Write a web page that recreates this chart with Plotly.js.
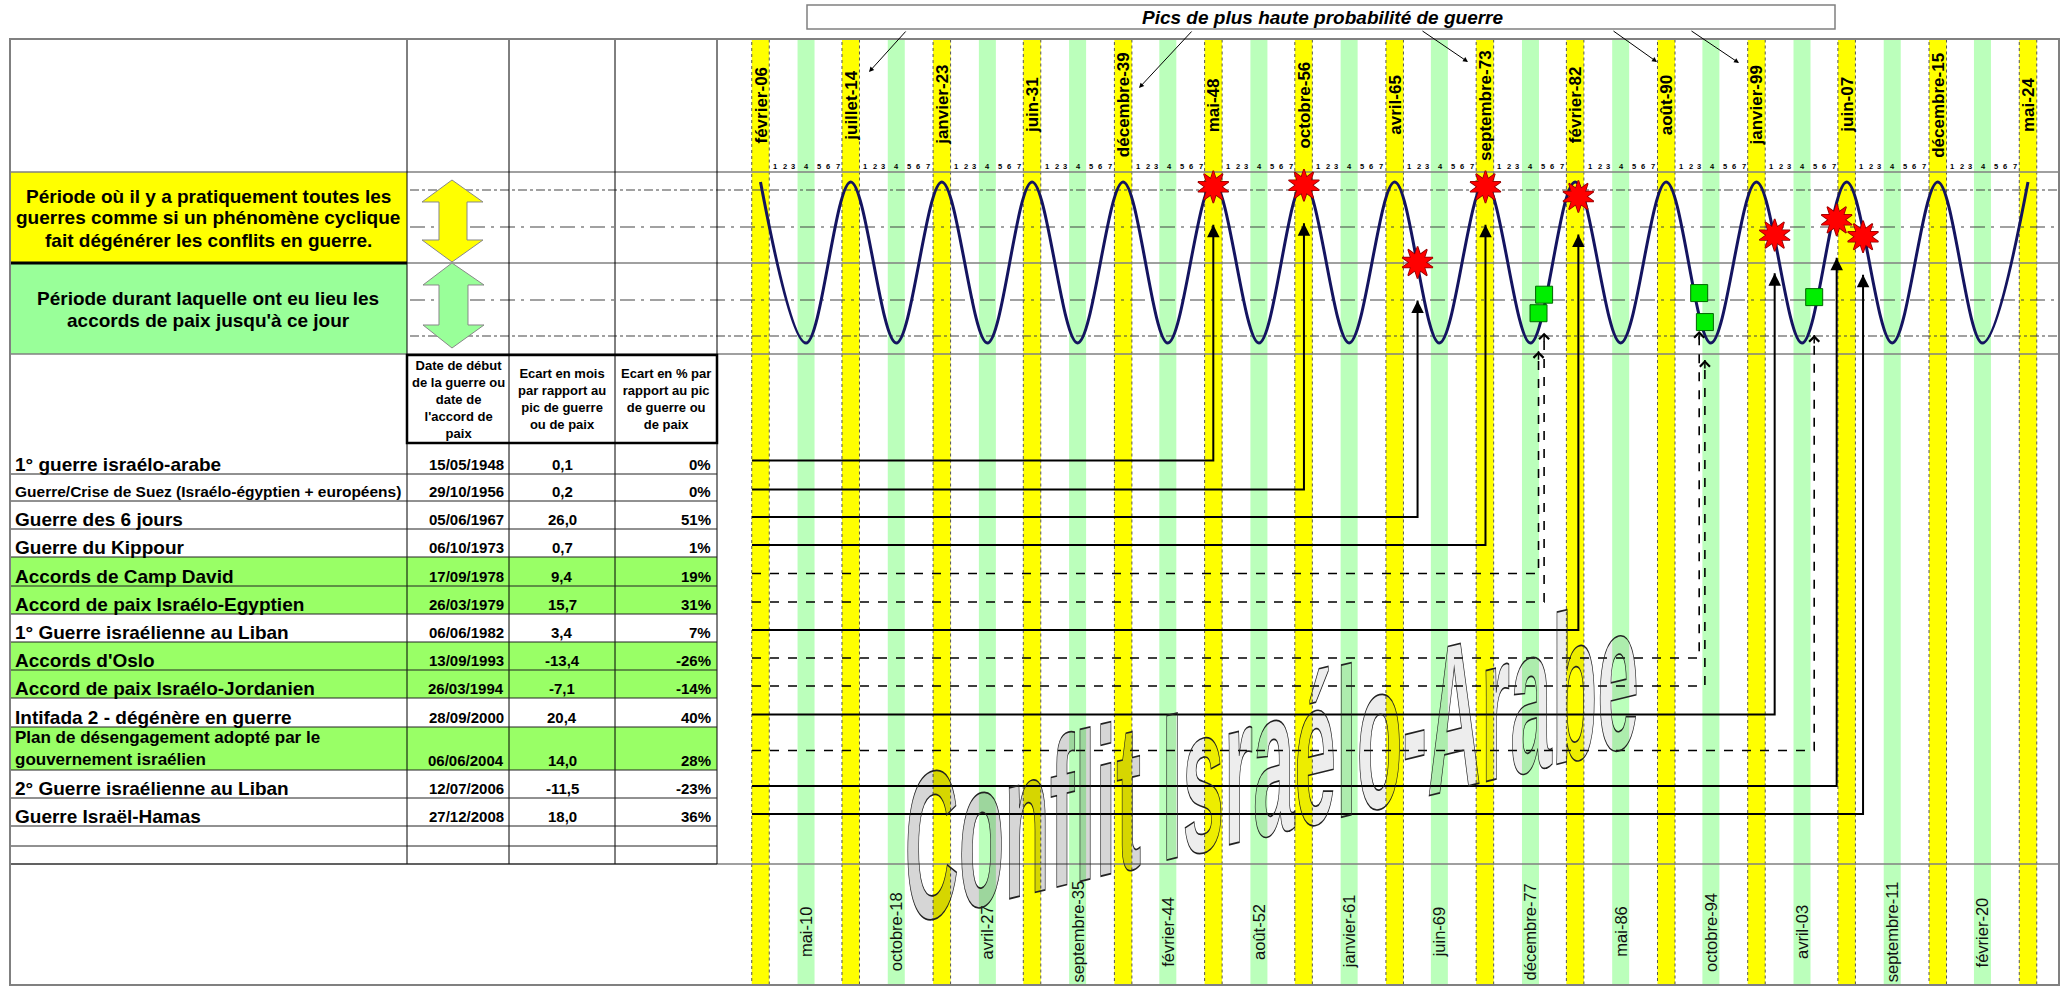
<!DOCTYPE html>
<html><head><meta charset="utf-8">
<script src="https://cdn.plot.ly/plotly-3.0.1.min.js"></script>
<style>html,body{margin:0;padding:0;background:#fff;}#chart{width:2064px;height:987px;}</style>
</head><body><div id="chart"></div>
<script>
// ================= DATA =================
const peakLabels = ['février-06','juillet-14','janvier-23','juin-31','décembre-39','mai-48','octobre-56','avril-65','septembre-73','février-82','août-90','janvier-99','juin-07','décembre-15','mai-24'];
const peakDates  = ['1906-02','1914-07','1923-01','1931-06','1939-12','1948-05','1956-10','1965-04','1973-09','1982-02','1990-08','1999-01','2007-06','2015-12','2024-05'];
const troughLabels = ['mai-10','octobre-18','avril-27','septembre-35','février-44','août-52','janvier-61','juin-69','décembre-77','mai-86','octobre-94','avril-03','septembre-11','février-20'];
const troughDates  = ['1910-05','1918-10','1927-04','1935-09','1944-02','1952-08','1961-01','1969-06','1977-12','1986-05','1994-10','2003-04','2011-09','2020-02'];
const phaseNumbers = ['1','2','3','4','5','6','7'];

const events = ['1° guerre israélo-arabe','Guerre/Crise de Suez (Israélo-égyptien + européens)','Guerre des 6 jours','Guerre du Kippour','Accords de Camp David','Accord de paix Israélo-Egyptien','1° Guerre israélienne au Liban',"Accords d'Oslo",'Accord de paix Israélo-Jordanien','Intifada 2 - dégénère en guerre','Plan de désengagement adopté par le<br>gouvernement israélien','2° Guerre israélienne au Liban','Guerre Israël-Hamas'];
const eventDates = ['15/05/1948','29/10/1956','05/06/1967','06/10/1973','17/09/1978','26/03/1979','06/06/1982','13/09/1993','26/03/1994','28/09/2000','06/06/2004','12/07/2006','27/12/2008'];
const eventKind = ['guerre','guerre','guerre','guerre','paix','paix','guerre','paix','paix','guerre','paix','guerre','guerre'];
const ecartMois = [0.1,0.2,26.0,0.7,9.4,15.7,3.4,-13.4,-7.1,20.4,14.0,-11.5,18.0];
const ecartPct  = [0,0,51,1,19,31,7,-26,-14,40,28,-23,36];
const waveLevel = [0.94,0.96,0.0,0.94,-0.63,-0.40,0.82,-0.38,-0.74,0.34,-0.43,0.53,0.32];

const titleText = 'Pics de plus haute probabilité de guerre';
const yellowText = ['Période où il y a pratiquement toutes les','guerres comme si un phénomène cyclique','fait dégénérer les conflits en guerre.'];
const greenText = ['Période durant laquelle ont eu lieu les',"accords de paix jusqu'à ce jour"];
const headerText = ["Date de début<br>de la guerre ou<br>date de<br>l'accord de<br>paix",'Ecart en mois<br>par rapport au<br>pic de guerre<br>ou de paix','Ecart en % par<br>rapport au pic<br>de guerre ou<br>de paix'];
const watermarkParts = ['Conflit','Israélo-Arabe'];

// ================= LAYOUT CONSTANTS (pixels) =================
const W = 2064, H = 987;
const FR = {l:10, r:2059, t:39, b:985};
const COLS = [407,509,615,717];
const ROW_EDGES = [443,474,501,529,557,586,614,642,670,698,727,770,798,826,846,864];
const PEAK_PX0 = 760.5, PEAK_PX1 = 2028;
const WAVE_MID = 262.5, WAVE_AMP = 80.5;
const CHART_LEFT = 752;
const ARROW_GAP = 38;
const NUM_DX = [14.5,24.5,32.5,46,58.5,67.5,77.5];
const LABEL_SIZE = [19,15.5,19,19,19,19,19,19,19,19,17,19,19];
const FONT = 'Liberation Sans, Arial, sans-serif';

// ================= SCALES =================
const ym = s => { const [y,m] = s.split('-').map(Number); return y + (m-0.5)/12; };
const dmy = s => { const [d,m,y] = s.split('/').map(Number); const t0 = Date.UTC(y,0,1), t1 = Date.UTC(y+1,0,1); return y + (Date.UTC(y,m-1,d)-t0)/(t1-t0); };
const peaksX = peakDates.map(ym), troughsX = troughDates.map(ym);
const PPY = (PEAK_PX1-PEAK_PX0)/(peaksX[peaksX.length-1]-peaksX[0]);
const X0 = peaksX[0]-PEAK_PX0/PPY, X1 = X0 + W/PPY;
const px2x = p => X0 + p/PPY;
const py2y = p => (WAVE_MID-p)/WAVE_AMP;
const xp = p => p/W, yp = p => 1 - p/H;

const shapes = [], ann = [];
const rect = (x0,y0,x1,y1,fill,line) => shapes.push({type:'rect',xref:'paper',yref:'paper',x0:xp(x0),x1:xp(x1),y0:yp(y1),y1:yp(y0),fillcolor:fill||'rgba(0,0,0,0)',line:line||{width:0},layer:'below'});
const seg = (x0,y0,x1,y1,color,width,dash) => shapes.push({type:'line',xref:'paper',yref:'paper',x0:xp(x0),x1:xp(x1),y0:yp(y0),y1:yp(y1),line:{color:color,width:width,dash:dash||'solid'},layer:'below'});
const path = (pts,fill,lc) => shapes.push({type:'path',xref:'paper',yref:'paper',path:'M'+pts.map(p=>xp(p[0]).toFixed(5)+','+yp(p[1]).toFixed(5)).join('L')+'Z',fillcolor:fill,line:{color:lc,width:1},layer:'below'});
const txt = (px,py,text,size,o) => ann.push(Object.assign({xref:'paper',yref:'paper',x:xp(px),y:yp(py),text:text,showarrow:false,font:{family:FONT,size:size,color:'#000',weight:'bold'},xanchor:'center',yanchor:'middle'},o||{}));

// ---- bands ----
troughsX.forEach(x => shapes.push({type:'rect',xref:'x',yref:'paper',xsizemode:'pixel',xanchor:x,x0:-8.5,x1:8.5,y0:yp(FR.b),y1:yp(FR.t),fillcolor:'#bbffbb',line:{width:0},layer:'below'}));
peaksX.forEach(x => shapes.push({type:'rect',xref:'x',yref:'paper',xsizemode:'pixel',xanchor:x,x0:-8.75,x1:8.75,y0:yp(FR.b),y1:yp(FR.t),fillcolor:'#ffff00',line:{width:1,color:'#555',dash:'dot'},layer:'below'}));

// ---- fills ----
rect(FR.l,172,COLS[0],263,'#ffff00');
rect(FR.l,263,COLS[0],354,'#99ff99');
eventKind.forEach((k,i) => { if (k==='paix') rect(FR.l,ROW_EDGES[i],COLS[3],ROW_EDGES[i+1],'#99ff66'); });

// ---- guide lines ----
seg(410,190,FR.r,190,'#444',1.2,'dashdot');
seg(410,227,FR.r,227,'#444',1.2,'longdashdot');
seg(410,300,FR.r,300,'#444',1.2,'longdashdot');
seg(410,336,FR.r,336,'#444',1.2,'dashdot');
seg(FR.l,172,FR.r,172,'#808080',1.5);
seg(FR.l,263,FR.r,263,'#808080',1.5);
seg(FR.l,263,COLS[0],263,'#000',3);
seg(FR.l,354,FR.r,354,'#808080',1.5);
seg(FR.l,864,FR.r,864,'#808080',1.5);
// table
COLS.forEach(c => seg(c,FR.t,c,864,'#000',1));
ROW_EDGES.slice(1).forEach(e => seg(FR.l,e,COLS[3],e,'#222',1));
rect(COLS[0],355,COLS[3],443,null,{color:'#000',width:2.5});
// frame
rect(FR.l,FR.t,FR.r,FR.b,null,{color:'#808080',width:2});

// ---- double arrows ----
path([[452,180],[483,202],[467,202],[467,240],[483,240],[452,262],[422,240],[439,240],[439,202],[422,202]],'#ffff00','#888');
path([[452,263],[484,285],[468,285],[468,325],[484,325],[452,348],[423,325],[439,325],[439,285],[423,285]],'#99ff99','#888');

// ---- title box ----
shapes.push({type:'rect',xref:'paper',yref:'paper',x0:xp(807),x1:xp(1835),y0:yp(29),y1:yp(5),fillcolor:'#fff',line:{color:'#808080',width:1.5},layer:'above'});
txt(1323,17.5,titleText,19,{font:{family:FONT,size:19,color:'#000',weight:'bold',style:'italic'}});
[[907,30,869,72],[1193,30,1139,88],[1421,30,1468,62],[1612,30,1657,62],[1690,30,1739,63]].forEach(a => ann.push({xref:'paper',yref:'paper',x:xp(a[2]),y:yp(a[3]),ax:a[0]-a[2],ay:a[1]-a[3],text:'',showarrow:true,arrowhead:2,arrowsize:1,arrowwidth:1,arrowcolor:'#000'}));

// ---- left boxes ----
yellowText.forEach((t,i) => txt(208,196+22*i,t,19));
greenText.forEach((t,i) => txt(208,298+22*i,t,19));

// ---- header ----
headerText.forEach((t,i) => txt((COLS[i]+COLS[i+1])/2,399,t,13));

// ---- rows ----
const fmt1 = v => (v<0?'-':'') + Math.abs(v).toFixed(1).replace('.',',');
events.forEach((e,i) => {
  const bottom = ROW_EDGES[i+1];
  const ty = bottom - 9.5;
  const ly = e.includes('<br>') ? (ROW_EDGES[i]+bottom)/2 : ty;
  txt(13,ly,e,LABEL_SIZE[i],{xanchor:'left',align:'left'});
  txt(506,ty,eventDates[i],15,{xanchor:'right'});
  txt(562,ty,fmt1(ecartMois[i]),15);
  txt(713,ty,ecartPct[i]+'%',15,{xanchor:'right'});
});

// ---- period labels ----
peaksX.forEach((x,i) => ann.push({xref:'x',yref:'paper',x:x,y:yp(105),xanchor:'center',yanchor:'middle',text:peakLabels[i],textangle:-90,showarrow:false,font:{family:FONT,size:17,color:'#000',weight:'bold'}}));
troughsX.forEach((x,i) => ann.push({xref:'x',yref:'paper',x:x,y:yp(932),xanchor:'center',yanchor:'middle',text:troughLabels[i],textangle:-90,showarrow:false,font:{family:FONT,size:16.5,color:'#111'}}));
peaksX.slice(0,-1).forEach(x => phaseNumbers.forEach((n,k) => ann.push({xref:'x',yref:'paper',x:x,xshift:NUM_DX[k],y:yp(166),xanchor:'center',yanchor:'middle',text:n,showarrow:false,font:{family:FONT,size:7.5,color:'#000',weight:'bold'}})));

// ================= TRACES =================
const waveX = [], waveY = [];
peaksX.forEach((p,i) => { waveX.push(p); waveY.push(1); if (i < troughsX.length) { waveX.push(troughsX[i]); waveY.push(-1); } });
const wave = {x:waveX,y:waveY,mode:'lines',line:{color:'#141460',width:3,shape:'spline',smoothing:1},hoverinfo:'skip'};

const conn = {guerre:{x:[],y:[]}, paix:{x:[],y:[]}};
const mk = {guerre:{x:[],y:[]}, paix:{x:[],y:[]}};
const x0c = px2x(CHART_LEFT);
events.forEach((e,i) => {
  const ex = dmy(eventDates[i]);
  const ry = py2y((ROW_EDGES[i]+ROW_EDGES[i+1])/2 + 2);
  const tip = waveLevel[i] - ARROW_GAP/WAVE_AMP;
  const k = eventKind[i];
  conn[k].x.push(x0c, ex, ex, null);
  conn[k].y.push(ry, ry, tip, null);
  mk[k].x.push(ex); mk[k].y.push(waveLevel[i]);
  ann.push({xref:'x',yref:'y',x:ex,y:tip,ax:0,ay:10,text:'',showarrow:true,
    arrowhead: k==='guerre'?2:4, arrowsize: k==='guerre'?1.25:1.3, arrowwidth: k==='guerre'?2:1.5, arrowcolor:'#000'});
});
const warConn = {x:conn.guerre.x,y:conn.guerre.y,mode:'lines',line:{color:'#000',width:2},hoverinfo:'skip'};
const peaceConn = {x:conn.paix.x,y:conn.paix.y,mode:'lines',line:{color:'#000',width:1.6,dash:'dash'},hoverinfo:'skip'};
const star = (ang,lw) => ({x:mk.guerre.x,y:mk.guerre.y,mode:'markers',marker:{symbol:'star',angle:ang,size:23,color:'#ff0000',line:{color:'#8b0000',width:lw}},hoverinfo:'skip'});
const peaceMk = {x:mk.paix.x,y:mk.paix.y,mode:'markers',marker:{symbol:'square',size:17,color:'#00ee00',line:{color:'#006600',width:1}},hoverinfo:'skip'};

// watermark (WordArt-like: squeezed, stretched and slanted after drawing)
const wmText = '<span style="color:rgba(0,0,0,0.16)">' + watermarkParts[0] + '</span> <span style="color:rgba(0,0,0,0.07)">' + watermarkParts[1] + '</span>';
ann.push({xref:'paper',yref:'paper',x:xp(1272),y:yp(761),xanchor:'center',yanchor:'middle',text:wmText,showarrow:false,font:{family:FONT,size:100,color:'#000',weight:'bold'}});

const layout = {
  width:W, height:H, margin:{l:0,r:0,t:0,b:0}, showlegend:false,
  paper_bgcolor:'#fff', plot_bgcolor:'rgba(0,0,0,0)', hovermode:false,
  xaxis:{range:[X0,X1],visible:false,fixedrange:true},
  yaxis:{range:[py2y(H),py2y(0)],visible:false,fixedrange:true},
  shapes:shapes, annotations:ann
};

Plotly.newPlot('chart',[wave,warConn,peaceConn,star(0,1.5),star(36,1.5),star(0,0),star(36,0),peaceMk],layout,{displayModeBar:false,staticPlot:true}).then(gd => {
  gd.querySelectorAll('g.annotation').forEach(g => {
    const t = g.querySelector('text.annotation-text');
    if (t && t.textContent.indexOf(watermarkParts[0]) === 0) {
      t.setAttribute('textLength','734');
      t.setAttribute('lengthAdjust','spacingAndGlyphs');
      t.style.fillOpacity = '1';
      t.style.transformBox = 'fill-box';
      t.style.transformOrigin = 'center';
      t.style.transform = 'skewY(-13.8deg) scaleY(2.1)';
      t.style.stroke = '#222';
      t.style.strokeWidth = '0.8px';
    }
  });
});
</script></body></html>
